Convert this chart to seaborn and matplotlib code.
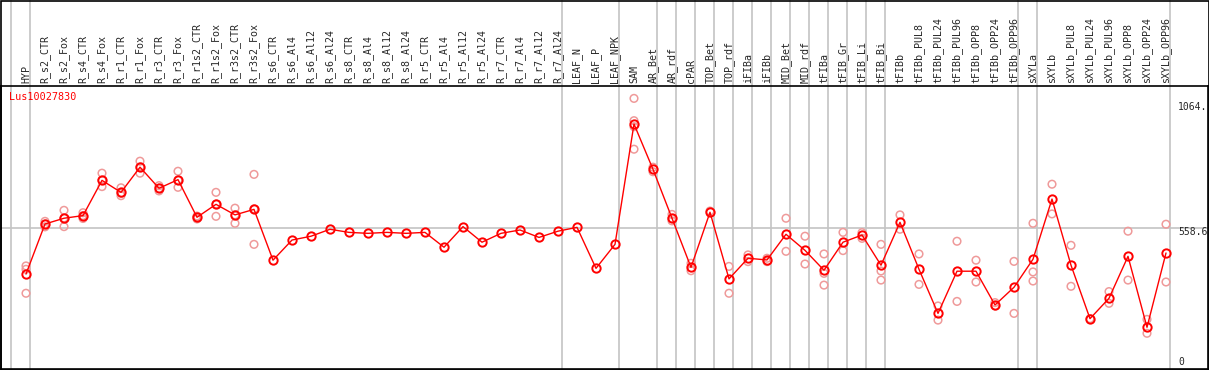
import numpy as np
import pandas as pd
import matplotlib
matplotlib.use("Agg")
import matplotlib.pyplot as plt
import matplotlib.transforms as mtransforms
import seaborn as sns

# sample names (x axis)
samples = [
    "HYP", "R_s2_CTR", "R_s2_Fox", "R_s4_CTR", "R_s4_Fox", "R_r1_CTR", "R_r1_Fox",
    "R_r3_CTR", "R_r3_Fox", "R_r1s2_CTR", "R_r1s2_Fox", "R_r3s2_CTR", "R_r3s2_Fox",
    "R_s6_CTR", "R_s6_Al4", "R_s6_Al12", "R_s6_Al24", "R_s8_CTR", "R_s8_Al4",
    "R_s8_Al12", "R_s8_Al24", "R_r5_CTR", "R_r5_Al4", "R_r5_Al12", "R_r5_Al24",
    "R_r7_CTR", "R_r7_Al4", "R_r7_Al12", "R_r7_Al24", "LEAF_N", "LEAF_P", "LEAF_NPK",
    "SAM", "AR_Bet", "AR_rdf", "cPAR", "TOP_Bet", "TOP_rdf", "iFIBa", "iFIBb",
    "MID_Bet", "MID_rdf", "tFIBa", "tFIB_Gr", "tFIB_Li", "tFIB_Bi", "tFIBb",
    "tFIBb_PUL8", "tFIBb_PUL24", "tFIBb_PUL96", "tFIBb_OPP8", "tFIBb_OPP24",
    "tFIBb_OPP96", "sXYLa", "sXYLb", "sXYLb_PUL8", "sXYLb_PUL24", "sXYLb_PUL96",
    "sXYLb_OPP8", "sXYLb_OPP24", "sXYLb_OPP96",
]

# mean expression per sample
means = [
    368, 577, 601, 612, 759, 709, 814, 726, 762, 605, 659, 615, 638,
    426, 510, 526, 555, 542, 538, 542, 538, 542, 480, 566, 501,
    538, 552, 521, 547, 563, 392, 492,
    994, 805, 601, 396, 626, 348, 434, 427, 534, 467, 384, 501, 531, 405, 584,
    388, 204, 380, 380, 239, 313,
    430, 681, 405, 182, 267, 442, 146, 456,
]

# replicate values (empty where no replicates shown)
replicates = [
    [402, 388, 288], [588, 577, 565], [634, 602, 566], [624, 612, 600],
    [789, 760, 733], [728, 705, 695], [839, 815, 789], [737, 726, 715],
    [797, 760, 730], [610, 605, 598], [709, 660, 609], [643, 615, 580],
    [784, 640, 492],
    [], [], [], [], [], [], [], [], [], [], [], [], [], [], [], [], [], [], [],
    [1101, 1008, 983, 889], [814, 795], [617, 600, 590], [413, 382], [631],
    [400, 288], [448, 420], [434, 420], [601, 463], [526, 410],
    [452, 371, 322], [542, 466], [541, 517], [492, 381, 343], [615, 555],
    [452, 325], [235, 176], [505, 254], [426, 335], [249, 235], [421, 204],
    [580, 377, 339], [743, 619], [488, 317], [182], [295, 246], [547, 343],
    [179, 121], [576, 335],
]

# group separators: index of first sample in each group
group_starts = [0, 1, 29, 32, 34, 35, 36, 37, 38, 39, 40, 41, 42, 43, 44, 45, 46, 53, 54, 61]

gene = "Lus10027830"
ref_value = 558.6
max_value = 1064

W, H = 1209, 370
sns.set_style("white")
plt.rcParams["font.family"] = ["DejaVu Sans Mono"]

fig = plt.figure(figsize=(W / 100, H / 100), dpi=100)
ax = fig.add_axes([1 / W, 1 / H, 1207 / W, (369 - 86) / H])

x = np.arange(len(samples))
df_mean = pd.DataFrame({"x": x, "value": means})
rep_rows = [(i, v) for i, reps in enumerate(replicates) for v in reps]
df_rep = pd.DataFrame(rep_rows, columns=["x", "value"])

# separators and reference line
trans = mtransforms.blended_transform_factory(ax.transData, ax.transAxes)
for g in group_starts:
    ax.plot([g - 0.79, g - 0.79], [0, H / (369 - 86)], transform=trans,
            color="#c4c4c4", lw=1.2, clip_on=False, zorder=1)
ax.axhline(ref_value, color="#c4c4c4", lw=1.2, zorder=1)

sns.scatterplot(data=df_rep, x="x", y="value", ax=ax, marker="o", s=30,
                facecolors="none", edgecolor="#ef9a9a", linewidth=1.1, zorder=2)
sns.lineplot(data=df_mean, x="x", y="value", ax=ax, color="red", lw=1,
             marker="o", markersize=6, markerfacecolor="none",
             markeredgecolor="red", markeredgewidth=1.4, zorder=3)

ax.set_xlim(-25 / 19, (1208 - 26) / 19)
ax.set_ylim(-28, 1152.7)
ax.set_xticks(x)
ax.set_xticklabels(samples, rotation=90, fontsize=7.2)
ax.xaxis.tick_top()
ax.tick_params(axis="x", length=0, pad=2.5)
ax.set_yticks([])
ax.set_xlabel("")
ax.set_ylabel("")
for s in ax.spines.values():
    s.set_color("black")
    s.set_linewidth(1.2)

ax.text(8 / 1207, 1 - 11 / 283, gene, transform=ax.transAxes, color="red",
        fontsize=7.3, va="center", ha="left")
for v, off in [(max_value, 0), (ref_value, 4), (0, 0)]:
    yy = ax.transData.transform((0, v))[1] - off
    label = ("%g." % v) if v == max_value else ("%g" % v)
    ax.text(1178, yy, label, transform=None, fontsize=7, va="center", ha="left")

fig.add_artist(plt.Rectangle((0.5 / W, 0.5 / H), 1 - 1 / W, 1 - 1 / H,
                             transform=fig.transFigure, fill=False,
                             edgecolor="black", lw=1.2))

fig.savefig("out.png", dpi=100)
